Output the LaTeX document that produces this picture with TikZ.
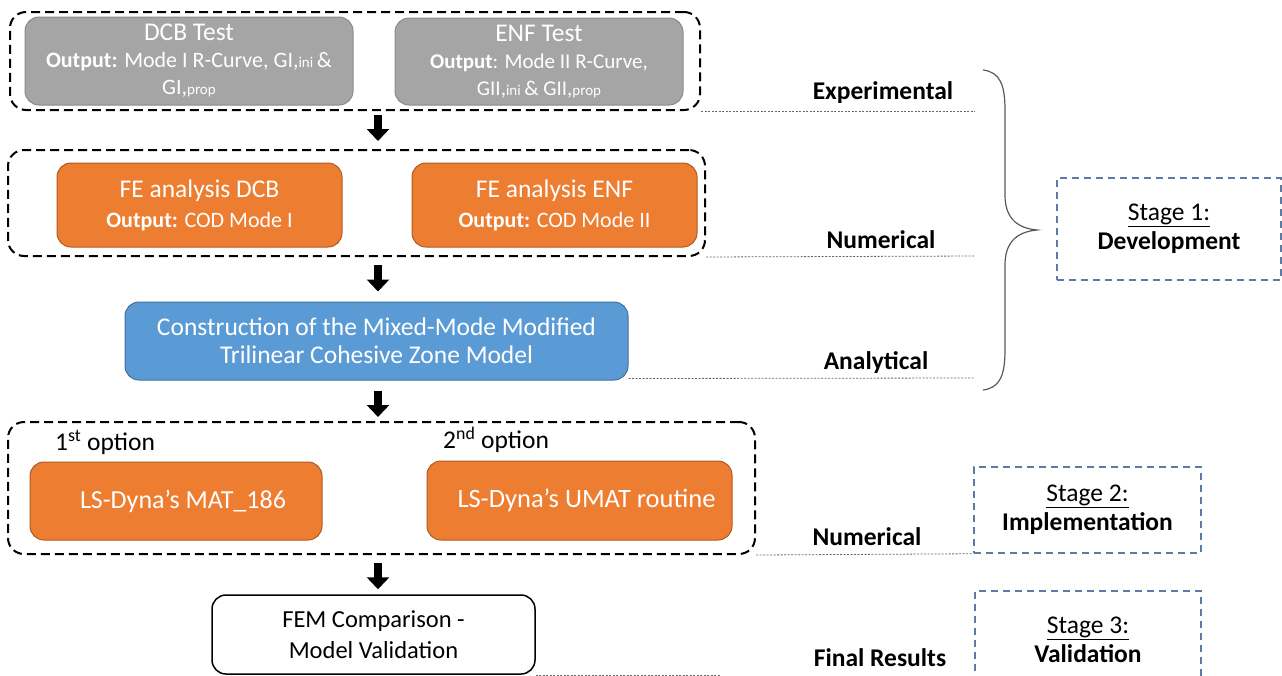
\documentclass[tikz,border=0pt]{standalone}
\usepackage{fontspec}
\setmainfont{Carlito}
\usetikzlibrary{arrows.meta,calc}
\definecolor{gfill}{HTML}{A5A5A5}
\definecolor{gdraw}{HTML}{8A8A8A}
\definecolor{ofill}{HTML}{ED7D31}
\definecolor{odraw}{HTML}{AE5A21}
\definecolor{bfill}{HTML}{5B9BD5}
\definecolor{bdraw}{HTML}{41719C}
\definecolor{sblue}{HTML}{5B7BA6}
\newcommand\sm[1]{{\fontsize{15}{15}\selectfont #1}}
\newcommand\ttl[1]{{\fontsize{25.5}{28}\selectfont #1}}
\begin{document}
\begin{tikzpicture}[x=1pt,y=-1pt,
  box/.style={rounded corners=14pt, align=center, inner sep=0pt, text=white,
    font=\fontsize{22}{27}\selectfont},
  grayb/.style={box, fill=gfill, draw=gdraw, line width=1pt},
  orangeb/.style={box, fill=ofill, draw=odraw, line width=1pt},
  blueb/.style={box, fill=bfill, draw=bdraw, line width=1pt, font=\fontsize{25.5}{28}\selectfont},
  whiteb/.style={box, fill=white, draw=black, line width=1.5pt, text=black, font=\fontsize{24.5}{31}\selectfont},
  dbox/.style={draw=black, dash pattern=on 9pt off 5pt, line width=2pt, rounded corners=16pt, inner sep=0pt},
  sbox/.style={draw=sblue, dash pattern=on 7pt off 5pt, line width=1.5pt, align=center, inner sep=0pt,
    font=\fontsize{25.5}{29}\selectfont},
  lab/.style={font=\fontsize{25.5}{28}\selectfont\bfseries, inner sep=0pt},
  opt/.style={font=\fontsize{25.5}{28}\selectfont, inner sep=0pt, anchor=west},
  dotl/.style={draw=black!60, dash pattern=on 2pt off 1.5pt, line width=0.8pt},
  bigarrow/.style={line width=8pt, -{Triangle[width=22pt,length=12pt]}},
  bracel/.style={draw=black!65, line width=1.2pt}
]
\useasboundingbox (0,0) rectangle (1282,675);

% dashed group boxes
\node[dbox, minimum width=690pt, minimum height=98pt] (g1) at (355,61) {};
\node[dbox, minimum width=697pt, minimum height=106pt] (g2) at (356.5,203) {};
\node[dbox, minimum width=747pt, minimum height=132pt] (g3) at (381.5,488) {};

% experimental
\node[grayb, minimum width=328pt, minimum height=88pt] (dcb) at (189,61)
  {\ttl{DCB Test}\\\textbf{Output:} Mode I R-Curve, GI,\sm{ini}\,\&\\GI,\sm{prop}};
\node[grayb, minimum width=288pt, minimum height=87pt, font=\fontsize{21}{27}\selectfont] (enf) at (539,61.5)
  {\ttl{ENF Test}\\\textbf{Output}: Mode II R-Curve,\\GII,\sm{ini}\,\& GII,\sm{prop}};

% numerical
\node[orangeb, minimum width=285pt, minimum height=84pt, font=\fontsize{22}{30}\selectfont] (fedcb) at (199.5,205)
  {\ttl{FE analysis DCB}\\\textbf{Output:} COD Mode I};
\node[orangeb, minimum width=285pt, minimum height=84pt, font=\fontsize{22}{30}\selectfont] (feenf) at (554.5,205)
  {\ttl{FE analysis ENF}\\\textbf{Output:} COD Mode II};

% analytical
\node[blueb, minimum width=503pt, minimum height=78pt] (czm) at (376.5,341)
  {Construction of the Mixed-Mode Modified\\Trilinear Cohesive Zone Model};

% implementation
\node[opt] (o1) at (55,442) {1\textsuperscript{st} option};
\node[opt] (o2) at (443,440) {2\textsuperscript{nd} option};
\node[orangeb, minimum width=292pt, minimum height=78pt, font=\fontsize{26}{30}\selectfont] (mat) at (176,501)
  {\hspace*{14pt}LS-Dyna's MAT\_186};
\node[orangeb, minimum width=305pt, minimum height=79pt, font=\fontsize{26.5}{30}\selectfont] (umat) at (579.5,500.5)
  {\hspace*{14pt}LS-Dyna's UMAT routine};

% validation
\node[whiteb, minimum width=323pt, minimum height=79pt] (fem) at (373.5,634.5)
  {FEM Comparison -\\Model Validation};

% arrows
\coordinate (ax) at (378,0);
\draw[bigarrow] ([yshift=-4pt]g1.south -| ax) -- ([yshift=8pt]g2.north -| ax);
\draw[bigarrow] ([yshift=-8pt]g2.south -| ax) -- ([yshift=10pt]czm.north -| ax);
\draw[bigarrow] ([yshift=-10pt]czm.south -| ax) -- ([yshift=4pt]g3.north -| ax);
\draw[bigarrow] ([yshift=-8pt]g3.south -| ax) -- ([yshift=5pt]fem.north -| ax);

% level labels
\node[lab] (lexp) at (883,93) {Experimental};
\node[lab] (lnum1) at (881,240) {Numerical};
\node[lab] (lana) at (876,363) {Analytical};
\node[lab] (lnum2) at (867,537) {Numerical};
\node[lab] (lfin) at (880,658) {Final Results};

% stage boxes
\node[sbox, minimum width=224pt, minimum height=102pt] (s1) at (1169,229)
  {\underline{Stage 1:}\\\textbf{Development}};
\node[sbox, minimum width=227pt, minimum height=86pt] (s2) at (1087.5,510)
  {\underline{Stage 2:}\\\textbf{Implementation}};
\node[sbox, minimum width=226pt, minimum height=87pt, anchor=north] (s3) at (1088,590) {};
\node[font=\fontsize{25.5}{29}\selectfont, align=center, inner sep=0pt] (s3t) at (1088,640)
  {\underline{Stage 3:}\\\textbf{Validation}};

% dotted guide lines
\coordinate (e1) at (975,111);
\coordinate (e2) at (975,256);
\coordinate (e3) at (975,378);
\draw[dotl] (g1.south east) -- (e1);
\draw[dotl] (g2.south east) -- (e2);
\draw[dotl] ([yshift=2pt]czm.south east) -- (e3);
\draw[dotl] (g3.south east) -- (s2.south west);
\draw[dotl] ([yshift=-0.5pt]fem.south east) -- ++(185,0);

% brace
\draw[bracel] (983,70) .. controls (1000,72) and (1005,85) .. (1005,110)
  -- (1005,195) .. controls (1005,216) and (1015,228) .. (1037,230)
  .. controls (1015,232) and (1005,244) .. (1005,265)
  -- (1005,350) .. controls (1005,375) and (1000,388) .. (983,390);
\end{tikzpicture}
\end{document}
